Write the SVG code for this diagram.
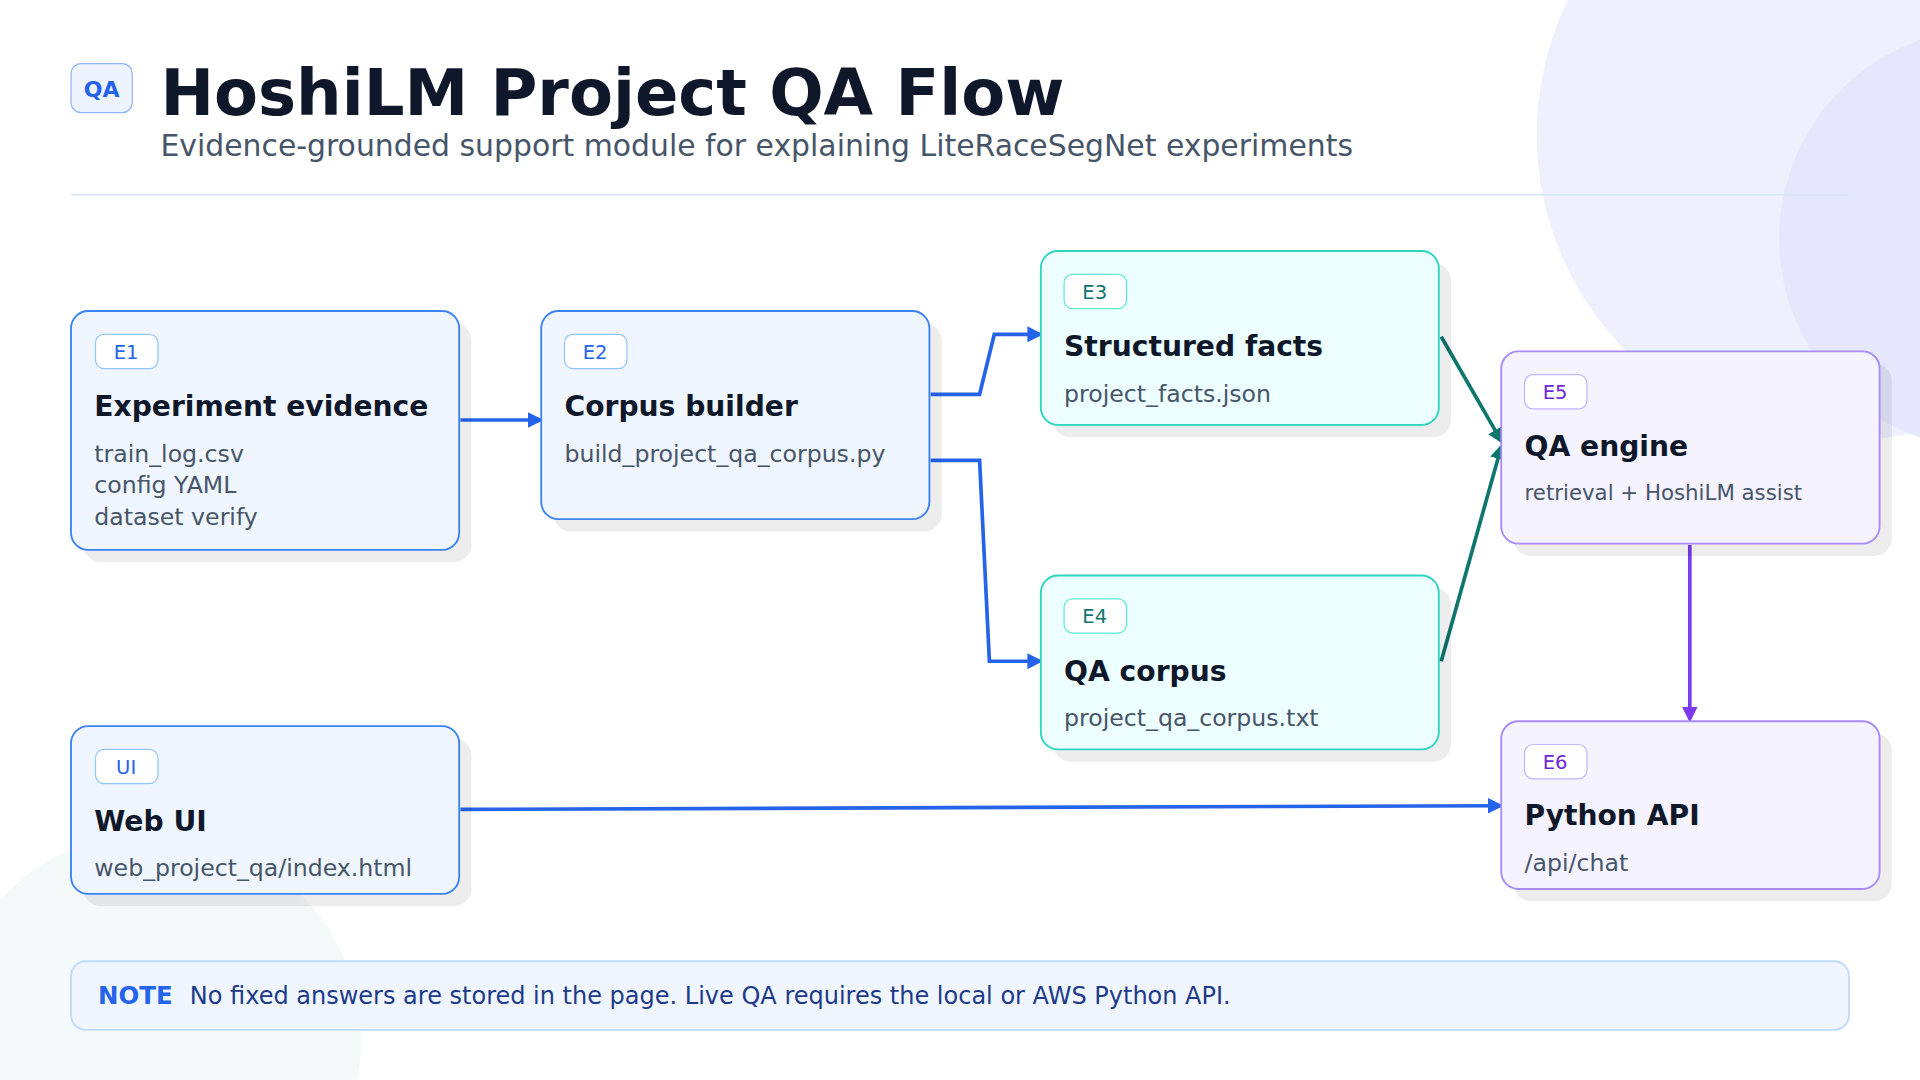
<svg xmlns="http://www.w3.org/2000/svg" width="1920" height="1080" viewBox="0 0 1920 1080">
<defs>
<style>
text{font-family:"DejaVu Sans","Noto Sans",sans-serif}
.sh{fill:#000;opacity:.07}
.bl{fill:#eff6ff;stroke:#3b82f6;stroke-width:1.5}
.tl{fill:#ecfeff;stroke:#2dd4bf;stroke-width:1.5}
.pu{fill:#f5f3ff;stroke:#a78bfa;stroke-width:1.5}
.bd{fill:#fff;stroke-width:1}
.t{font-size:23px;font-weight:bold;fill:#0f172a}
.s{font-size:19.3px;fill:#475569}
.b{font-size:16px}
.c{fill:none;stroke-width:3}
</style>
<marker id="ab" markerWidth="13" markerHeight="13" refX="10" refY="6.5" orient="auto" markerUnits="userSpaceOnUse"><path d="M0,0L13,6.5L0,13z" fill="#2563eb"/></marker>
<marker id="at" markerWidth="13" markerHeight="13" refX="10" refY="6.5" orient="auto" markerUnits="userSpaceOnUse"><path d="M0,0L13,6.5L0,13z" fill="#0f766e"/></marker>
<marker id="ap" markerWidth="13" markerHeight="13" refX="10" refY="6.5" orient="auto" markerUnits="userSpaceOnUse"><path d="M0,0L13,6.5L0,13z" fill="#7c3aed"/></marker>
</defs>
<rect width="1920" height="1080" fill="#fff"/>
<g transform="scale(1.2245)">
<circle cx="1505" cy="110" r="250" fill="#eef0fe"/>
<circle cx="1625" cy="195" r="172" fill="#e5e7fc"/>
<circle cx="125" cy="850" r="170" fill="#f3faf9"/>
<rect x="58" y="52" width="50" height="40" rx="8" fill="#eef4ff" stroke="#93b4f5"/>
<text x="83" y="79" text-anchor="middle" font-size="18" font-weight="bold" fill="#2563eb">QA</text>
<text x="131" y="94" font-size="52.3" font-weight="bold" fill="#0f172a">HoshiLM Project QA Flow</text>
<text x="131" y="127" font-size="24.4" fill="#475569">Evidence-grounded support module for explaining LiteRaceSegNet experiments</text>
<line x1="58" y1="159" x2="1510" y2="159" stroke="#dbe6f3" stroke-width="1.5"/>
<g id="connectors">
<path class="c" stroke="#2563eb" marker-end="url(#ab)" d="M376,343H441"/>
<path class="c" stroke="#2563eb" marker-end="url(#ab)" d="M760,322H800L812,273H849"/>
<path class="c" stroke="#2563eb" marker-end="url(#ab)" d="M760,376H800L808,540H849"/>
<path class="c" stroke="#0f766e" marker-end="url(#at)" d="M1177,275L1226,360"/>
<path class="c" stroke="#0f766e" marker-end="url(#at)" d="M1177,540L1226,365"/>
<path class="c" stroke="#7c3aed" marker-end="url(#ap)" d="M1380,445V587"/>
<path class="c" stroke="#2563eb" marker-end="url(#ab)" d="M376,661L1225,658"/>
</g>
<g id="E1"><rect class="sh" x="68" y="264" width="317" height="195" rx="14"/><rect class="bl" x="58" y="254" width="317" height="195" rx="14"/>
<rect class="bd" stroke="#93c5fd" x="78" y="273" width="51" height="28" rx="7"/><text class="b" x="103" y="293" text-anchor="middle" fill="#2563eb">E1</text>
<text class="t" x="77" y="340">Experiment evidence</text><text class="s" x="77" y="377">train_log.csv</text><text class="s" x="77" y="403">config YAML</text><text class="s" x="77" y="429">dataset verify</text></g>
<g id="E2"><rect class="sh" x="452" y="264" width="317" height="170" rx="14"/><rect class="bl" x="442" y="254" width="317" height="170" rx="14"/>
<rect class="bd" stroke="#93c5fd" x="461" y="273" width="51" height="28" rx="7"/><text class="b" x="486" y="293" text-anchor="middle" fill="#2563eb">E2</text>
<text class="t" x="461" y="340">Corpus builder</text><text class="s" x="461" y="377">build_project_qa_corpus.py</text></g>
<g id="E3"><rect class="sh" x="860" y="215" width="325" height="142" rx="14"/><rect class="tl" x="850" y="205" width="325" height="142" rx="14"/>
<rect class="bd" stroke="#5eead4" x="869" y="224" width="51" height="28" rx="7"/><text class="b" x="894" y="244" text-anchor="middle" fill="#0f766e">E3</text>
<text class="t" x="869" y="291">Structured facts</text><text class="s" x="869" y="328">project_facts.json</text></g>
<g id="E4"><rect class="sh" x="860" y="480" width="325" height="142" rx="14"/><rect class="tl" x="850" y="470" width="325" height="142" rx="14"/>
<rect class="bd" stroke="#5eead4" x="869" y="489" width="51" height="28" rx="7"/><text class="b" x="894" y="509" text-anchor="middle" fill="#0f766e">E4</text>
<text class="t" x="869" y="556">QA corpus</text><text class="s" x="869" y="593">project_qa_corpus.txt</text></g>
<g id="E5"><rect class="sh" x="1236" y="297" width="309" height="157" rx="14"/><rect class="pu" x="1226" y="287" width="309" height="157" rx="14"/>
<rect class="bd" stroke="#c4b5fd" x="1245" y="306" width="51" height="28" rx="7"/><text class="b" x="1270" y="326" text-anchor="middle" fill="#6d28d9">E5</text>
<text class="t" x="1245" y="372">QA engine</text><text class="s" x="1245" y="408" style="font-size:17.4px">retrieval + HoshiLM assist</text></g>
<g id="E6"><rect class="sh" x="1236" y="599" width="309" height="137" rx="14"/><rect class="pu" x="1226" y="589" width="309" height="137" rx="14"/>
<rect class="bd" stroke="#c4b5fd" x="1245" y="608" width="51" height="28" rx="7"/><text class="b" x="1270" y="628" text-anchor="middle" fill="#6d28d9">E6</text>
<text class="t" x="1245" y="674">Python API</text><text class="s" x="1245" y="711">/api/chat</text></g>
<g id="UI"><rect class="sh" x="68" y="603" width="317" height="137" rx="14"/><rect class="bl" x="58" y="593" width="317" height="137" rx="14"/>
<rect class="bd" stroke="#93c5fd" x="78" y="612" width="51" height="28" rx="7"/><text class="b" x="103" y="632" text-anchor="middle" fill="#2563eb">UI</text>
<text class="t" x="77" y="679">Web UI</text><text class="s" x="77" y="715">web_project_qa/index.html</text></g>
<g id="note"><rect x="58" y="785" width="1452" height="56" rx="12" fill="#eff6ff" stroke="#bfdbfe" stroke-width="1.5"/>
<text x="80" y="820" font-size="20" font-weight="bold" fill="#2563eb">NOTE</text>
<text x="155" y="820" font-size="19.6" fill="#1e3a8a">No fixed answers are stored in the page. Live QA requires the local or AWS Python API.</text></g>
</g>
</svg>
